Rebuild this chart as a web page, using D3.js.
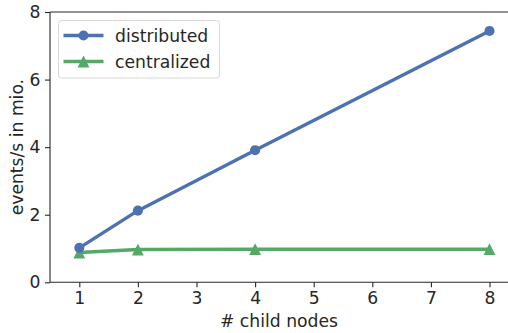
<!DOCTYPE html>
<html>
<head>
<meta charset="utf-8">
<script src="https://cdn.jsdelivr.net/npm/d3@7"></script>
<style>
  html, body { margin: 0; padding: 0; background: #fff; }
  svg { display: block; font-family: "DejaVu Sans", sans-serif; }
</style>
</head>
<body>
<svg id="chart" width="508" height="333"></svg>
<script>
// Throughput (million events per second) by number of child nodes
const childNodes = [1, 2, 4, 8];
const distributed = [1.02, 2.12, 3.91, 7.44];
const centralized = [0.88, 0.97, 0.98, 0.98];
const xTicks = [1, 2, 3, 4, 5, 6, 7, 8];
const yTicks = [0, 2, 4, 6, 8];

const svg = d3.select("#chart");
const plotLeft = 50, plotTop = 12, plotBottom = 282.3;
const unit = 58.6;

const x = d3.scaleLinear().domain([0.5, 8.5]).range([plotLeft, plotLeft + 8 * unit]);
const y = d3.scaleLinear().domain([0, 8]).range([plotBottom, plotTop]);

const axisColor = "#262626";
const fontSize = 17.2;

// Axes
const xAxis = svg.append("g")
  .attr("transform", `translate(0,${plotBottom})`)
  .call(d3.axisBottom(x).tickValues(xTicks).tickFormat(d3.format("d")).tickSize(5).tickPadding(4));
const yAxis = svg.append("g")
  .attr("transform", `translate(${plotLeft},0)`)
  .call(d3.axisLeft(y).tickValues(yTicks).tickFormat(d3.format("d")).tickSize(5).tickPadding(4.5));

[xAxis, yAxis].forEach(g => {
  g.select(".domain").remove();
  g.selectAll(".tick line").attr("stroke", axisColor).attr("stroke-width", 1.1);
  g.selectAll(".tick text")
    .attr("fill", axisColor)
    .attr("font-size", fontSize)
    .attr("font-family", "DejaVu Sans, sans-serif");
});

// Spines: left, bottom and top
svg.append("line").attr("x1", plotLeft).attr("x2", plotLeft).attr("y1", plotTop).attr("y2", plotBottom)
  .attr("stroke", axisColor).attr("stroke-width", 1.1);
svg.append("line").attr("x1", plotLeft).attr("x2", x(8.5)).attr("y1", plotBottom).attr("y2", plotBottom)
  .attr("stroke", axisColor).attr("stroke-width", 1.1);
svg.append("line").attr("x1", plotLeft).attr("x2", x(8.5)).attr("y1", plotTop).attr("y2", plotTop)
  .attr("stroke", axisColor).attr("stroke-width", 1.1);

// Axis titles
svg.append("text")
  .attr("x", 279).attr("y", 327.3)
  .attr("text-anchor", "middle")
  .attr("font-size", fontSize)
  .attr("fill", axisColor)
  .text("# child nodes");
svg.append("text")
  .attr("transform", `translate(23,${(plotTop + plotBottom) / 2}) rotate(-90)`)
  .attr("text-anchor", "middle")
  .attr("font-size", fontSize)
  .attr("fill", axisColor)
  .text("events/s in mio.");

const series = [
  { name: "distributed", values: distributed, color: "#4C72B0", marker: "circle" },
  { name: "centralized", values: centralized, color: "#55A868", marker: "triangle" }
];

// Upward triangle whose width equals its height, centred on the point
const triangleUp = {
  draw(context, size) {
    const h = Math.sqrt(size) / 2;
    context.moveTo(0, -h);
    context.lineTo(h, h);
    context.lineTo(-h, h);
    context.closePath();
  }
};

const line = d3.line().x(d => x(d[0])).y(d => y(d[1]));
const circleSym = d3.symbol().type(d3.symbolCircle).size(80);
const triSym = d3.symbol().type(triangleUp).size(140);

// Draw centralized first so distributed sits on top
series.slice().reverse().forEach(s => {
  const pts = childNodes.map((c, i) => [c, s.values[i]]);
  svg.append("path")
    .attr("d", line(pts))
    .attr("fill", "none")
    .attr("stroke", s.color)
    .attr("stroke-width", 3.4)
    .attr("stroke-linejoin", "round");
  svg.selectAll(null).data(pts).enter().append("path")
    .attr("d", s.marker === "circle" ? circleSym() : triSym())
    .attr("transform", d => `translate(${x(d[0])},${y(d[1])})`)
    .attr("fill", s.color);
});

// Legend
const legend = svg.append("g");
legend.append("rect")
  .attr("x", 58.5).attr("y", 20.5).attr("width", 161).attr("height", 57.5)
  .attr("rx", 3).attr("fill", "#fff").attr("fill-opacity", 0.8)
  .attr("stroke", "#d9d9d9").attr("stroke-width", 1);
series.forEach((s, i) => {
  const cy = 35.5 + i * 26;
  legend.append("line")
    .attr("x1", 63.5).attr("x2", 103.5).attr("y1", cy).attr("y2", cy)
    .attr("stroke", s.color).attr("stroke-width", 3.4);
  legend.append("path")
    .attr("d", s.marker === "circle" ? circleSym() : triSym())
    .attr("transform", `translate(83.5,${cy})`)
    .attr("fill", s.color);
  legend.append("text")
    .attr("x", 115).attr("y", cy)
    .attr("dy", "0.35em")
    .attr("font-size", fontSize)
    .attr("fill", axisColor)
    .text(s.name);
});
</script>
</body>
</html>
